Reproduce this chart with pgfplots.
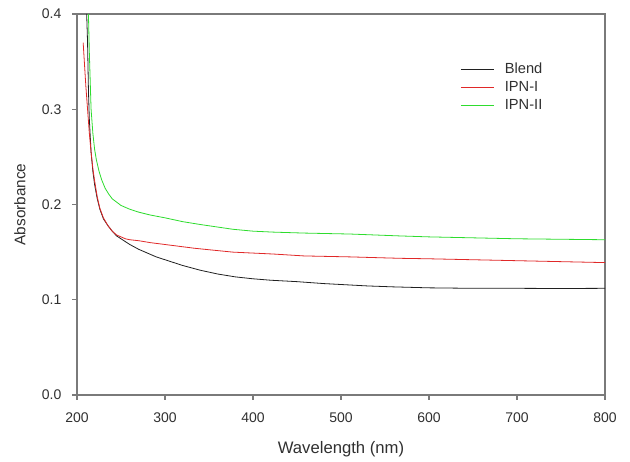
\documentclass[border=0pt]{standalone}
\usepackage{fontspec}
\setmainfont{Liberation Sans}
\usepackage{pgfplots}
\pgfplotsset{compat=1.18}
\definecolor{axgray}{HTML}{7A7A7A}
\definecolor{txtgray}{HTML}{303030}
\definecolor{cblend}{HTML}{202020}
\definecolor{cipn}{HTML}{E02828}
\definecolor{cipnii}{HTML}{2EDC2E}

\begin{document}
\begin{tikzpicture}
\begin{axis}[
  scale only axis,
  width=396pt, height=285.75pt,
  xmin=200, xmax=800, ymin=0, ymax=0.4,
  xtick={200,300,...,800},
  ytick={0,0.1,0.2,0.3,0.4},
  tick pos=left, tick align=outside,
  major tick length=3.75pt,
  axis line style={axgray, line width=0.8pt},
  every tick/.style={axgray, line width=0.8pt},
  /pgf/number format/assume math mode=true,
  yticklabel style={/pgf/number format/fixed, /pgf/number format/fixed zerofill,
    /pgf/number format/precision=1, xshift=-4.5pt},
  xticklabel style={/pgf/number format/set thousands separator={}, yshift=-6pt},
  tick label style={font=\fontsize{10.5pt}{12pt}\selectfont, text=txtgray},
  xlabel={Wavelength (nm)},
  ylabel={Absorbance},
  xlabel style={font=\fontsize{12.5pt}{14pt}\selectfont, text=txtgray,
    at={(axis description cs:0.5,-0.1417)}, anchor=center},
  ylabel style={font=\fontsize{11.5pt}{14pt}\selectfont, text=txtgray,
    at={(axis description cs:-0.108,0.5)}, anchor=center},
  legend style={at={(rel axis cs:0.718,0.887)}, anchor=north west, draw=none, fill=none,
    font=\fontsize{11pt}{13pt}\selectfont, text=txtgray, row sep=0.5pt},
  legend cell align=left,
  legend image code/.code={\draw[#1] (0pt,0pt) -- (24.75pt,0pt); \path (30.75pt,0pt);},
  clip=true,
]
\addplot[cblend, line width=0.6pt] coordinates {
  (211,0.40) (212,0.37) (213,0.32) (214,0.29) (216,0.255) (218,0.235) (220,0.221)
  (223,0.206) (226,0.195) (230,0.185) (235,0.178) (240,0.172) (245,0.167) (250,0.164)
  (255,0.161) (260,0.158) (270,0.153) (280,0.149) (290,0.145) (300,0.142) (320,0.136)
  (340,0.131) (360,0.127) (380,0.124) (400,0.122) (420,0.1205) (450,0.119) (480,0.117)
  (500,0.116) (530,0.1145) (560,0.1135) (600,0.1125) (650,0.112) (700,0.112) (750,0.1118) (800,0.112)};
\addlegendentry{Blend}
\addplot[cipn, line width=0.6pt] coordinates {
  (207,0.37) (208,0.355) (209,0.34) (210,0.325) (212,0.30) (214,0.275) (216,0.255)
  (218,0.238) (220,0.225) (223,0.208) (226,0.196) (230,0.186) (235,0.178) (240,0.172)
  (245,0.168) (250,0.166) (255,0.164) (260,0.163) (270,0.162) (283,0.160) (300,0.158)
  (334,0.154) (377,0.150) (423,0.148) (458,0.146) (510,0.145) (567,0.1435) (600,0.143)
  (650,0.142) (700,0.141) (750,0.140) (800,0.139)};
\addlegendentry{IPN-I}
\addplot[cipnii, line width=0.6pt] coordinates {
  (213,0.40) (214,0.36) (215,0.33) (216,0.30) (218,0.275) (220,0.258) (222,0.247)
  (225,0.235) (228,0.226) (232,0.217) (236,0.211) (240,0.206) (250,0.199) (260,0.195)
  (270,0.192) (283,0.189) (300,0.186) (320,0.182) (340,0.179) (377,0.174) (400,0.172)
  (423,0.171) (458,0.170) (510,0.169) (567,0.167) (600,0.166) (650,0.165) (700,0.164)
  (750,0.1635) (800,0.163)};
\addlegendentry{IPN-II}
\end{axis}
\path ([shift={(-57.75pt,-49.5pt)}]current axis.south west) rectangle ([shift={(18.75pt,10.5pt)}]current axis.north east);
\end{tikzpicture}
\end{document}
